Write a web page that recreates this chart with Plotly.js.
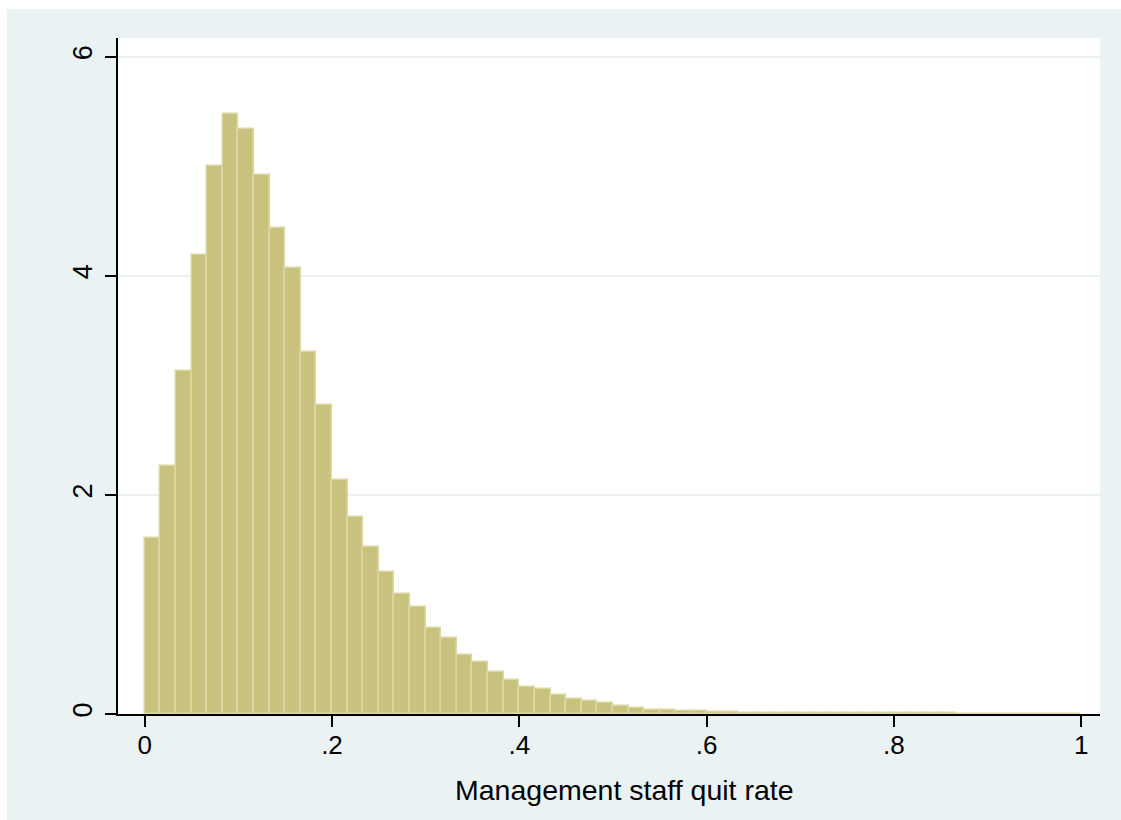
<!DOCTYPE html>
<html>
<head>
<meta charset="utf-8">
<script src="https://cdn.plot.ly/plotly-3.0.1.min.js"></script>
<style>
  html, body { margin: 0; padding: 0; background: #ffffff; }
  #chart { position: absolute; left: 7px; top: 9px; width: 1114px; height: 811px; }
</style>
</head>
<body>
<div id="chart"></div>
<script>
// Histogram of management staff quit rate: 60 bins of width 1/60 over [0, 1]
var binWidth = 1 / 60;
var density = [
  1.607, 2.267, 3.135, 4.191, 5.002, 5.477, 5.344, 4.919, 4.440, 4.068,
  3.301, 2.822, 2.133, 1.795, 1.526, 1.293, 1.096, 0.977, 0.788, 0.694,
  0.539, 0.478, 0.380, 0.313, 0.250, 0.231, 0.177, 0.134, 0.122, 0.100,
  0.077, 0.054, 0.038, 0.037, 0.028, 0.025, 0.018, 0.015, 0.012, 0.011,
  0.009, 0.008, 0.008, 0.007, 0.007, 0.006, 0.006, 0.006, 0.005, 0.005,
  0.005, 0.005, 0.004, 0.004, 0.004, 0.004, 0.004, 0.004, 0.004, 0.004
];
var xTickVals = [0, 0.2, 0.4, 0.6, 0.8, 1];
var xTickText = ["0", ".2", ".4", ".6", ".8", "1"];
var yTickVals = [0, 2, 4, 6];
var yTickText = ["0", "2", "4", "6"];
var xTitle = "Management staff quit rate";

var binCenters = density.map(function (_, i) { return (i + 0.5) * binWidth; });

var trace = {
  type: 'bar',
  x: binCenters,
  y: density,
  width: binWidth,
  marker: {
    color: 'rgb(201,194,126)',
    line: { color: 'rgb(219,215,162)', width: 1.5 }
  },
  hoverinfo: 'x+y'
};

var font = "Liberation Sans, Arial, Helvetica, sans-serif";

var layout = {
  width: 1114,
  height: 811,
  paper_bgcolor: '#eaf2f3',
  plot_bgcolor: '#ffffff',
  margin: { l: 111, r: 21, t: 29, b: 106 },
  showlegend: false,
  bargap: 0,
  xaxis: {
    range: [-0.0285, 1.0201],
    tickvals: xTickVals,
    ticktext: xTickText,
    ticks: 'outside',
    ticklen: 11,
    tickwidth: 1.5,
    tickcolor: '#000000',
    ticklabelstandoff: -4,
    showline: true,
    linecolor: '#000000',
    linewidth: 1.5,
    showgrid: false,
    zeroline: false,
    tickfont: { family: font, size: 26, color: '#000000' }
  },
  yaxis: {
    range: [0, 6.171],
    tickvals: yTickVals,
    ticktext: yTickText,
    tickangle: -90,
    ticks: 'outside',
    ticklen: 11,
    tickwidth: 1.5,
    tickcolor: '#000000',
    ticklabelstandoff: 2,
    showline: true,
    linecolor: '#000000',
    linewidth: 1.5,
    showgrid: true,
    gridcolor: '#eaf2f3',
    gridwidth: 2,
    zeroline: false,
    tickfont: { family: font, size: 27, color: '#000000' }
  },
  annotations: [{
    text: xTitle,
    xref: 'paper', yref: 'paper',
    x: 0.5153, y: -0.1124,
    xanchor: 'center', yanchor: 'middle',
    showarrow: false,
    font: { family: font, size: 28.5, color: '#000000' }
  }]
};

Plotly.newPlot('chart', [trace], layout, { displayModeBar: false, staticPlot: false });
</script>
</body>
</html>
